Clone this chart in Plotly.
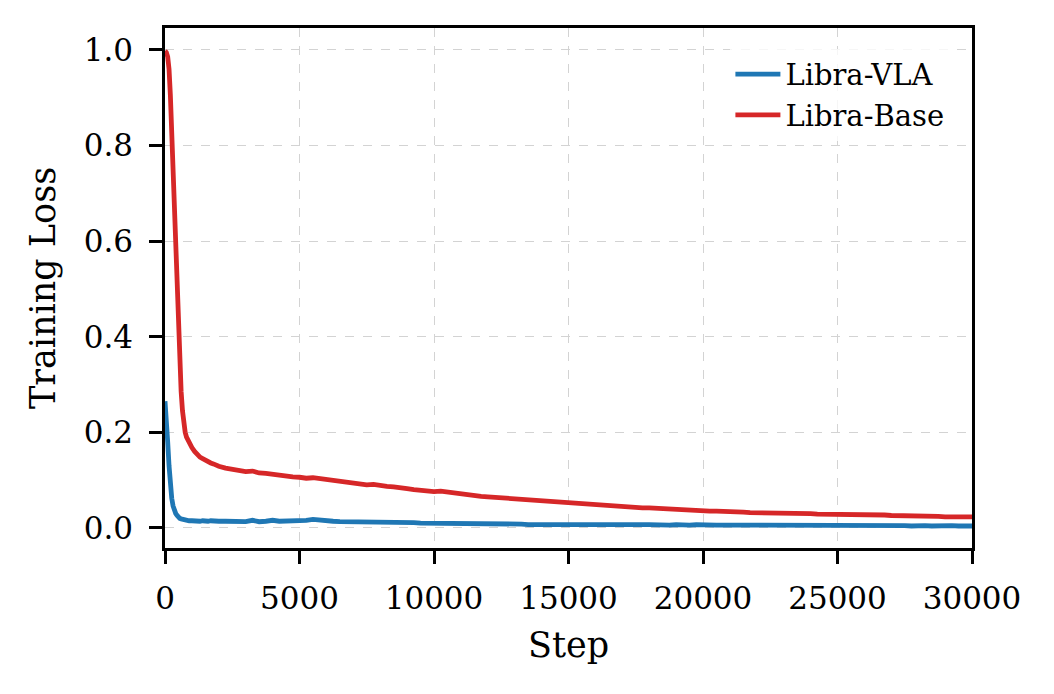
import plotly.graph_objects as go

# training steps (dense at the start where the loss drops fast)
steps = [
    0, 50, 100, 150, 200, 250, 300, 350, 400, 450, 500, 550, 600, 650, 700, 750, 800,
    900, 1000, 1100, 1200, 1300, 1400, 1500, 1600, 1700, 1800, 1900, 2000,
    2250, 2500, 2750, 3000, 3250, 3500, 3750, 4000, 4250, 4500, 4750, 5000,
    5250, 5500, 5750, 6000, 6250, 6500, 6750, 7000, 7250, 7500, 7750, 8000,
    8250, 8500, 8750, 9000, 9250, 9500, 9750, 10000, 10250, 10500, 10750, 11000,
    11250, 11500, 11750, 12000, 12250, 12500, 12750, 13000, 13250, 13500, 13750, 14000,
    14250, 14500, 14750, 15000, 15250, 15500, 15750, 16000, 16250, 16500, 16750, 17000,
    17250, 17500, 17750, 18000, 18250, 18500, 18750, 19000, 19250, 19500, 19750, 20000,
    20250, 20500, 20750, 21000, 21250, 21500, 21750, 22000, 22250, 22500, 22750, 23000,
    23250, 23500, 23750, 24000, 24250, 24500, 24750, 25000, 25250, 25500, 25750, 26000,
    26250, 26500, 26750, 27000, 27250, 27500, 27750, 28000, 28250, 28500, 28750, 29000,
    29250, 29500, 29750, 30000,
]

loss_vla = [
    0.265, 0.235, 0.180, 0.130, 0.090, 0.062, 0.046, 0.036, 0.030, 0.026, 0.022, 0.020, 0.019, 0.018, 0.017, 0.016, 0.016,
    0.015, 0.015, 0.014, 0.015, 0.014, 0.015, 0.014, 0.014, 0.015, 0.014, 0.013, 0.014,
    0.014, 0.013, 0.014, 0.013, 0.016, 0.013, 0.014, 0.016, 0.014, 0.014, 0.015, 0.015,
    0.016, 0.018, 0.016, 0.015, 0.014, 0.013, 0.013, 0.012, 0.012, 0.012, 0.013, 0.012,
    0.011, 0.012, 0.011, 0.012, 0.011, 0.010, 0.010, 0.010, 0.010, 0.009, 0.010, 0.009,
    0.010, 0.009, 0.009, 0.010, 0.009, 0.009, 0.008, 0.009, 0.008, 0.007, 0.008, 0.007,
    0.007, 0.008, 0.007, 0.007, 0.008, 0.007, 0.007, 0.008, 0.007, 0.007, 0.008, 0.007,
    0.007, 0.006, 0.007, 0.007, 0.006, 0.007, 0.006, 0.007, 0.006, 0.006, 0.007, 0.006,
    0.007, 0.006, 0.006, 0.007, 0.006, 0.006, 0.006, 0.007, 0.006, 0.006, 0.006, 0.005,
    0.006, 0.006, 0.005, 0.006, 0.005, 0.006, 0.006, 0.005, 0.005, 0.006, 0.005, 0.005,
    0.006, 0.005, 0.005, 0.005, 0.005, 0.005, 0.004, 0.005, 0.005, 0.004, 0.005, 0.004,
    0.005, 0.004, 0.004, 0.004,
]

loss_base = [
    0.998, 0.995, 0.986, 0.960, 0.905, 0.820, 0.730, 0.650, 0.570, 0.490, 0.415, 0.345, 0.285, 0.245, 0.218, 0.200, 0.190,
    0.178, 0.168, 0.160, 0.153, 0.148, 0.145, 0.141, 0.138, 0.136, 0.134, 0.131, 0.129,
    0.125, 0.122, 0.121, 0.118, 0.119, 0.115, 0.114, 0.112, 0.109, 0.108, 0.107, 0.106,
    0.104, 0.105, 0.103, 0.102, 0.101, 0.098, 0.096, 0.094, 0.092, 0.090, 0.091, 0.088,
    0.087, 0.086, 0.083, 0.082, 0.080, 0.078, 0.077, 0.076, 0.077, 0.075, 0.072, 0.070,
    0.069, 0.067, 0.066, 0.065, 0.064, 0.062, 0.061, 0.059, 0.058, 0.057, 0.056, 0.055,
    0.054, 0.053, 0.052, 0.051, 0.050, 0.049, 0.049, 0.049, 0.048, 0.047, 0.045, 0.044,
    0.043, 0.042, 0.042, 0.042, 0.041, 0.041, 0.040, 0.039, 0.038, 0.037, 0.036, 0.036,
    0.035, 0.035, 0.035, 0.034, 0.034, 0.033, 0.032, 0.032, 0.032, 0.032, 0.031, 0.031,
    0.031, 0.030, 0.030, 0.030, 0.029, 0.029, 0.029, 0.028, 0.028, 0.028, 0.027, 0.028,
    0.027, 0.027, 0.027, 0.026, 0.026, 0.026, 0.025, 0.024, 0.024, 0.024, 0.024, 0.023,
    0.024, 0.023, 0.023, 0.023,
]

x_ticks = [0, 5000, 10000, 15000, 20000, 25000, 30000]
y_ticks = [0.0, 0.2, 0.4, 0.6, 0.8, 1.0]

serif = "DejaVu Serif"

fig = go.Figure()
fig.add_trace(go.Scatter(
    x=steps, y=loss_vla, mode="lines", name="Libra-VLA",
    line=dict(color="#1f77b4", width=4.8)
))
fig.add_trace(go.Scatter(
    x=steps, y=loss_base, mode="lines", name="Libra-Base",
    line=dict(color="#d62728", width=4.8)
))

axis_style = dict(
    showline=True, linecolor="black", linewidth=2.5, mirror=True,
    ticks="outside", ticklen=13, tickwidth=2.5, tickcolor="black",
    showgrid=True, gridcolor="#d3d3d3", gridwidth=1.3, griddash="dash",
    zeroline=False,
    tickfont=dict(family=serif, size=31, color="black"),
)

# page body has an 8px margin, so the figure is a bit smaller than the window
fig.update_layout(
    width=1046, height=686, autosize=False,
    margin=dict(l=157, r=82, t=20, b=146),
    plot_bgcolor="white", paper_bgcolor="white",
    font=dict(family=serif, color="black"),
    legend=dict(
        x=0.972, y=0.96, xanchor="right", yanchor="top",
        bgcolor="rgba(255,255,255,0.8)",
        itemwidth=45,
        font=dict(family=serif, size=29, color="black"),
    ),
    xaxis=dict(
        axis_style, range=[0, 30000], tickvals=x_ticks, tickformat="d",
        ticklabelstandoff=8,
        title=dict(text="Step", font=dict(family=serif, size=35), standoff=18),
    ),
    yaxis=dict(
        axis_style, range=[-0.042, 1.046], tickvals=y_ticks, tickformat=".1f",
        ticklabelstandoff=10,
        title=dict(text="Training Loss", font=dict(family=serif, size=35), standoff=18),
    ),
)

fig.write_html("out.html")
